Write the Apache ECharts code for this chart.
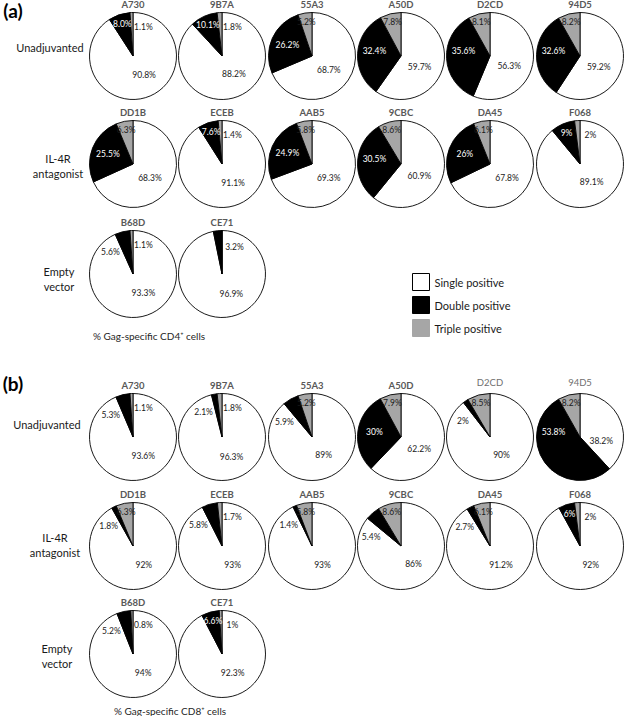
<!DOCTYPE html>
<html><head><meta charset="utf-8">
<script src="https://cdn.jsdelivr.net/npm/echarts@6/dist/echarts.min.js"></script>
<style>html,body{margin:0;padding:0;background:#fff}#c{width:624px;height:716px}</style>
</head><body><div id="c"></div>
<script>
// ---------- DATA ----------
const sliceNames = ['Single positive', 'Double positive', 'Triple positive'];
const groupLabels = ['Unadjuvanted', 'IL-4R\nantagonist', 'Empty\nvector'];
const donorsRow1 = ['A730', '9B7A', '55A3', 'A50D', 'D2CD', '94D5'];
const donorsRow2 = ['DD1B', 'ECEB', 'AAB5', '9CBC', 'DA45', 'F068'];
const donorsRow3 = ['B68D', 'CE71'];
// panel (a): % Gag-specific CD4+ cells
const cd4Single = ['90.8', '88.2', '68.7', '59.7', '56.3', '59.2', '68.3', '91.1', '69.3', '60.9', '67.8', '89.1', '93.3', '96.9'];
const cd4Double = ['8.0', '10.1', '26.2', '32.4', '35.6', '32.6', '25.5', '7.6', '24.9', '30.5', '26', '9', '5.6', '3.2'];
const cd4Triple = ['1.1', '1.8', '5.2', '7.8', '8.1', '8.2', '6.3', '1.4', '5.8', '8.6', '6.1', '2', '1.1', '0'];
// panel (b): % Gag-specific CD8+ cells
const cd8Single = ['93.6', '96.3', '89', '62.2', '90', '38.2', '92', '93', '93', '86', '91.2', '92', '94', '92.3'];
const cd8Double = ['5.3', '2.1', '5.9', '30', '2', '53.8', '1.8', '5.8', '1.4', '5.4', '2.7', '6', '5.2', '6.6'];
const cd8Triple = ['1.1', '1.8', '5.2', '7.9', '8.5', '8.2', '6.3', '1.7', '5.8', '8.6', '6.1', '2', '0.8', '1'];

// ---------- LAYOUT ----------
const colX = [133, 222, 312, 401, 490, 580];
const rowYA = [56, 164, 274];
const rowYB = [437, 546, 654];
const R = 43.5;
const sliceColors = ['#ffffff', '#000000', '#a6a6a6'];
const FONT = 'Lato, "Open Sans", sans-serif';

const donors = donorsRow1.concat(donorsRow2, donorsRow3);

function labelPlace(vals, idx) {
  const [s, d, t] = vals.map(Number);
  const tot = s + d + t;
  const a0 = s / tot * 360, a1 = (s + d) / tot * 360;
  let phi, k, dark = true;
  if (idx === 0) { phi = (a0 / 2 + 135) / 2; k = 0.5; }
  else if (idx === 1) {
    const mid = (a0 + a1) / 2, p = d / tot * 100;
    if (p >= 15) { phi = Math.max(mid, 280); k = 0.62; dark = false; }
    else if (p >= 6) { phi = mid; k = 0.78; dark = false; }
    else if (t === 0) { phi = 25; k = 0.68; }
    else { phi = a0 - 22; k = 0.72; }
  } else {
    const mid = (a1 + 360) / 2, p = t / tot * 100;
    if (p >= 5) { phi = mid; k = 0.8; } else { phi = 20; k = 0.7; }
  }
  const rad = phi * Math.PI / 180;
  return { dx: k * R * Math.sin(rad), dy: -k * R * Math.cos(rad), dark };
}

const series = [];
const graphics = [];
function addPanel(single, dbl, triple, rowY) {
  for (let i = 0; i < donors.length; i++) {
    const row = i < 6 ? 0 : (i < 12 ? 1 : 2);
    const col = i < 6 ? i : (i < 12 ? i - 6 : i - 12);
    const cx = colX[col], cy = rowY[row];
    const vals = [single[i], dbl[i], triple[i]];
    const places = vals.map((v, j) => labelPlace(vals, j));
    series.push({
      type: 'pie', center: [cx, cy], radius: R, startAngle: 90, clockwise: true,
      silent: true, animation: false, avoidLabelOverlap: false,
      labelLine: { show: false },
      emphasis: { disabled: true },
      itemStyle: { borderColor: '#000', borderWidth: 0.9 },
      label: { show: true, position: 'inside', fontSize: 8.5, fontFamily: FONT,
        formatter: p => p.data.txt + '%' },
      data: vals.map((v, j) => ({
        name: sliceNames[j], value: Number(v), txt: v,
        itemStyle: { color: sliceColors[j] },
        label: { show: Number(v) > 0, color: places[j].dark ? '#1a1a1a' : '#ffffff' }
      })),
      labelLayout: (params) => {
        const pl = places[params.dataIndex];
        return { x: cx + pl.dx, y: cy + pl.dy, align: 'center', verticalAlign: 'middle' };
      }
    });
  }
}
addPanel(cd4Single, cd4Double, cd4Triple, rowYA);
addPanel(cd8Single, cd8Double, cd8Triple, rowYB);

function txt(text, x, y, o) {
  graphics.push({ type: 'text', x, y, silent: true, style: Object.assign({
    text, fontFamily: FONT, fontSize: 11, fill: '#1a1a1a', align: 'center', verticalAlign: 'middle', lineHeight: 15
  }, o || {}) });
}
// donor titles
function titles(rowY, light) {
  for (let i = 0; i < donors.length; i++) {
    const row = i < 6 ? 0 : (i < 12 ? 1 : 2);
    const col = i < 6 ? i : (i < 12 ? i - 6 : i - 12);
    const isLight = light && light.indexOf(donors[i]) >= 0;
    txt(donors[i], colX[col], rowY[row] - 52 - (isLight ? 3 : 0),
      { fontSize: 9.5, fontWeight: isLight ? 'normal' : 'bold', fill: isLight ? '#6f6f6f' : '#595959' });
  }
}
titles(rowYA, null);
titles(rowYB, ['D2CD', '94D5']);
// panel letters
txt('(a)', 13, 10, { fontSize: 19, fontWeight: 'bold', fill: '#000' });
txt('(b)', 13, 383, { fontSize: 19, fontWeight: 'bold', fill: '#000' });
// group labels
txt(groupLabels[0], 50, 47);
txt(groupLabels[1], 58, 166);
txt(groupLabels[2], 59, 279);
txt(groupLabels[0], 47, 424);
txt(groupLabels[1], 55, 545);
txt(groupLabels[2], 57, 656);
// footnotes
txt('% Gag-specific CD4\u207A cells', 149, 336, { fontSize: 10, fill: '#262626' });
txt('% Gag-specific CD8\u207A cells', 170, 711, { fontSize: 10, fill: '#262626' });

const chart = echarts.init(document.getElementById('c'), null, { renderer: 'svg', width: 624, height: 716 });
chart.setOption({
  backgroundColor: '#fff',
  animation: false,
  legend: {
    orient: 'vertical', left: 407, top: 268, itemWidth: 17, itemHeight: 17, itemGap: 5,
    icon: 'rect', selectedMode: false,
    textStyle: { fontSize: 11, fontFamily: FONT, color: '#1a1a1a' },
    data: [
      { name: sliceNames[0], itemStyle: { color: '#fff', borderColor: '#000', borderWidth: 1 } },
      { name: sliceNames[1], itemStyle: { color: '#000', borderColor: '#000', borderWidth: 1 } },
      { name: sliceNames[2], itemStyle: { color: '#a6a6a6', borderColor: '#a6a6a6', borderWidth: 1 } }
    ]
  },
  series,
  graphic: { elements: graphics }
});
</script></body></html>
